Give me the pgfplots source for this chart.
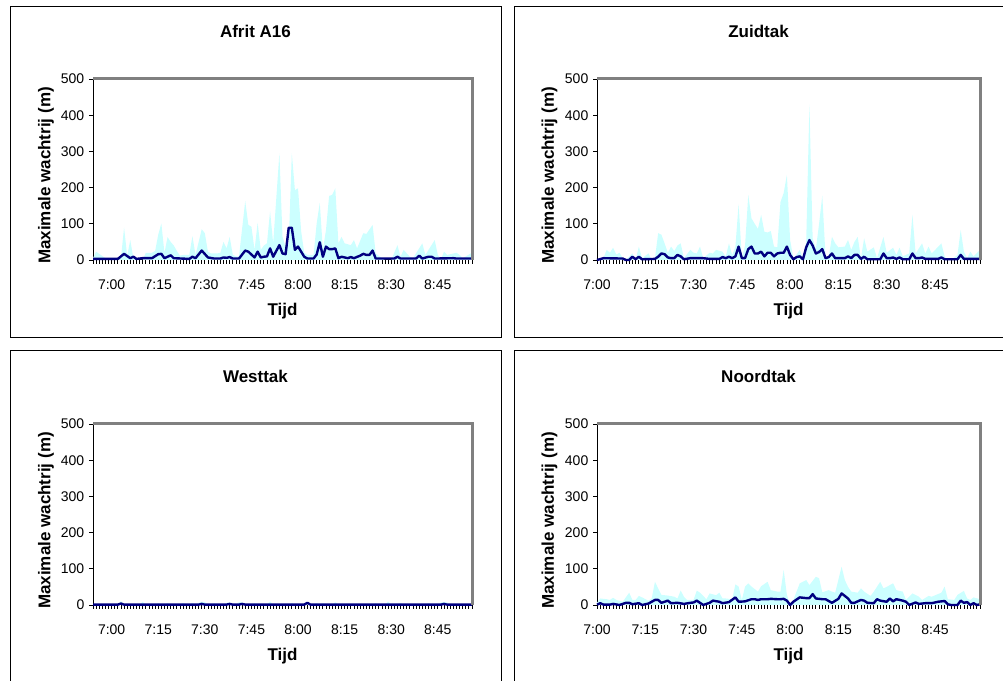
\documentclass[border=0pt]{standalone}
\usepackage{fontspec}
\setmainfont{Liberation Sans}
\usepackage{pgfplots}
\pgfplotsset{compat=1.18}
\definecolor{areac}{RGB}{204,255,255}
\definecolor{navyc}{RGB}{0,0,128}
\definecolor{framegray}{RGB}{128,128,128}

\pgfplotsset{
  panel/.style={
    scale only axis,
    height=135.75pt,
    ymin=0, ymax=500, ytick={0,100,...,500},
    axis x line*=bottom, axis y line*=left,
    axis line style={black, line width=0.75pt, -},
    xtick={0,15,...,105},
    xticklabels={7:00,7:15,7:30,7:45,8:00,8:15,8:30,8:45},
    tick align=outside,
    major tick length=3pt, minor tick length=3pt,
    tick style={black, line width=0.6pt},
    ticklabel style={font=\fontsize{10.5}{12}\selectfont},
    xticklabel style={yshift=-8.5pt},
    /pgf/number format/assume math mode=true,
    xlabel={\textbf{Tijd}}, ylabel={\textbf{Maximale wachtrij (m)}},
    label style={font=\fontsize{12.75}{15}\selectfont},
    xlabel style={at={(axis description cs:0.5,0)}, anchor=center, yshift=-38pt},
    ylabel style={at={(axis description cs:-0.124,0.467)}, anchor=center},
    clip=false,
  },
  leftpanel/.style={panel, width=284.25pt, xmin=-6, xmax=116, minor xtick={-6,-5,...,116}},
  rightpanel/.style={panel, width=287.25pt, xmin=0, xmax=119, minor xtick={0,1,...,119}},
  maxarea/.style={fill=areac, draw=none},
  meanline/.style={navyc, line width=1.8pt, line join=round},
}
\newcommand{\grayframe}{\draw[framegray, line width=2.25pt] (rel axis cs:0,1) -- (rel axis cs:1,1) -- (rel axis cs:1,0);}

\begin{document}
\begin{tikzpicture}
\useasboundingbox (0,0) rectangle (752.25pt,510.75pt);
\draw[black, line width=0.75pt] (7.5pt,257.25pt) rectangle (375.75pt,505.5pt);
\draw[black, line width=0.75pt] (385.5pt,257.25pt) rectangle (760pt,505.5pt);
\draw[black, line width=0.75pt] (7.5pt,-10pt) rectangle (375.75pt,247.5pt);
\draw[black, line width=0.75pt] (385.5pt,-10pt) rectangle (760pt,247.5pt);
\node[font=\fontsize{12.75}{15}\selectfont\bfseries] at (191.6pt,487.5pt) {Afrit A16};
\node[font=\fontsize{12.75}{15}\selectfont\bfseries] at (568.9pt,487.5pt) {Zuidtak};
\node[font=\fontsize{12.75}{15}\selectfont\bfseries] at (191.6pt,228.75pt) {Westtak};
\node[font=\fontsize{12.75}{15}\selectfont\bfseries] at (568.9pt,228.75pt) {Noordtak};

% ---------------- Afrit A16 ----------------
\begin{axis}[leftpanel, at={(69.75pt,315.75pt)}, anchor=south west]
\addplot[maxarea] coordinates {
(-6,5)(-5,23)(-2,5)(3,5)(4,90)(5,12)(6,55)(7,5)(8,0)(10,0)(11,20)(13,20)(14,25)(15,70)(16,101)(17,20)(18,63)(19,50)(20,40)(21,25)(22,12)(23,14)(25,14)(26,66)(27,14)(29,85)(30,74)(31,23)(32,18)(34,18)(35,20)(36,50)(37,32)(38,64)(39,14)(40,10)(41,10)(43,163)(44,97)(45,92)(46,28)(47,103)(48,28)(49,40)(50,46)(51,135)(52,46)(54,295)(55,64)(56,37)(57,45)(58,295)(59,193)(60,198)(61,80)(62,20)(63,14)(65,14)(66,101)(67,158)(68,28)(69,83)(70,177)(71,180)(72,198)(73,46)(74,64)(75,46)(77,41)(78,55)(79,32)(81,74)(82,72)(84,97)(85,18)(87,5)(88,0)(90,0)(92,41)(93,9)(94,28)(96,9)(97,5)(100,46)(101,14)(102,28)(104,55)(105,14)(106,2)(107,23)(108,14)(111,20)(112,14)(113,5)(116,20)
} \closedcycle;
\addplot[meanline] coordinates {
(-6,3)(2,3)(4,17)(6,5)(7,9)(8,3)(10,5)(13,5)(15,16)(16,17)(17,5)(19,13)(20,5)(25,3)(26,9)(27,5)(29,26)(31,7)(33,4)(35,4)(36,7)(37,6)(38,8)(39,4)(41,4)(43,26)(44,23)(46,7)(47,23)(48,7)(49,9)(50,10)(51,32)(52,9)(54,41)(55,18)(56,16)(57,89)(58,89)(59,28)(60,37)(62,9)(63,4)(65,4)(66,15)(67,49)(68,9)(69,37)(70,30)(71,30)(72,32)(73,5)(74,9)(76,5)(77,8)(78,5)(80,12)(81,17)(82,14)(83,14)(84,26)(85,4)(91,4)(92,9)(93,4)(98,4)(99,12)(100,4)(102,9)(103,9)(104,4)(110,5)(111,4)(116,4)
};
\grayframe
\end{axis}

% ---------------- Zuidtak ----------------
\begin{axis}[rightpanel, at={(447.75pt,315.75pt)}, anchor=south west]
\addplot[maxarea] coordinates {
(0,0)(2,5)(3,28)(4,20)(5,34)(6,15)(7,20)(8,5)(9,0)(11,18)(12,0)(13,37)(14,5)(16,18)(17,0)(18,5)(19,74)(20,70)(21,46)(22,20)(23,37)(24,25)(25,40)(26,46)(27,5)(29,28)(30,20)(31,18)(32,37)(33,5)(35,20)(36,18)(37,28)(39,23)(40,9)(41,46)(42,14)(43,37)(44,155)(45,5)(46,40)(47,180)(48,115)(49,100)(50,86)(51,125)(52,78)(53,76)(54,80)(55,37)(56,35)(57,160)(58,185)(59,235)(60,55)(61,5)(62,15)(63,28)(64,5)(65,50)(66,430)(67,60)(68,30)(69,100)(70,178)(71,10)(72,9)(73,64)(74,46)(75,35)(77,37)(78,55)(79,28)(80,50)(81,64)(82,5)(83,60)(84,23)(86,35)(87,5)(89,64)(90,20)(92,34)(93,14)(94,34)(95,10)(97,18)(98,125)(99,18)(101,46)(102,18)(103,37)(104,18)(107,46)(108,10)(109,0)(110,0)(112,14)(113,83)(114,23)(115,5)(116,23)(117,10)(119,28)
} \closedcycle;
\addplot[meanline] coordinates {
(0,0)(2,5)(8,4)(9,0)(10,0)(11,9)(12,2)(13,9)(14,2)(18,3)(19,9)(20,18)(21,16)(22,7)(23,5)(24,5)(25,14)(26,10)(27,2)(29,5)(33,5)(35,3)(38,3)(39,8)(40,5)(41,9)(42,5)(43,10)(44,37)(45,5)(46,5)(47,30)(48,37)(49,18)(50,18)(51,23)(52,10)(53,20)(54,20)(55,10)(56,18)(57,20)(58,20)(59,37)(60,14)(61,2)(62,8)(63,10)(64,2)(65,35)(66,55)(67,40)(68,18)(69,22)(70,30)(71,5)(72,8)(73,18)(74,5)(77,5)(78,10)(79,5)(80,14)(81,14)(82,3)(83,9)(84,2)(88,2)(89,18)(90,5)(91,5)(92,7)(93,3)(94,7)(95,2)(97,2)(98,18)(99,5)(100,5)(101,7)(102,3)(106,3)(107,7)(108,2)(112,2)(113,14)(114,3)(119,3)
};
\grayframe
\end{axis}

% ---------------- Westtak ----------------
\begin{axis}[leftpanel, at={(69.75pt,57pt)}, anchor=south west]
\addplot[maxarea] coordinates {
(-6,0)(2,0)(3,11)(4,0)(9,0)(10,9)(11,0)(14,0)(15,5)(16,0)(17,0)(18,5)(19,0)(22,0)(23,6)(24,0)(25,0)(26,6)(27,0)(28,6)(29,9)(30,8)(31,0)(32,0)(33,5)(34,0)(36,0)(37,6)(38,7)(39,0)(40,0)(41,8)(42,7)(43,0)(45,0)(46,5)(47,0)(50,0)(51,10)(52,0)(57,0)(58,6)(59,0)(62,0)(63,8)(64,0)(65,0)(66,5)(67,0)(68,5)(69,0)(71,0)(72,8)(73,0)(84,0)(85,5)(86,0)(88,0)(89,10)(90,0)(92,0)(93,6)(94,0)(101,0)(102,5)(103,0)(105,0)(106,7)(107,8)(108,7)(109,0)(116,0)
} \closedcycle;
\addplot[meanline] coordinates {
(-6,1)(2,1)(3,4)(4,1)(28,1)(29,3)(30,1)(37,1)(38,3)(39,1)(41,1)(42,3)(43,1)(62,1)(63,6)(64,1)(106,1)(107,3)(108,1)(116,1)
};
\grayframe
\end{axis}

% ---------------- Noordtak ----------------
\begin{axis}[rightpanel, at={(447.75pt,57pt)}, anchor=south west]
\addplot[maxarea] coordinates {
(0,6)(1,18)(3,16)(4,14)(5,20)(6,14)(8,9)(10,34)(11,14)(12,14)(13,25)(14,21)(16,12)(17,18)(18,64)(19,46)(20,28)(22,26)(24,23)(25,18)(26,40)(27,23)(28,14)(30,14)(31,40)(32,34)(34,16)(35,32)(37,27)(38,34)(39,18)(40,18)(42,16)(43,57)(44,51)(45,14)(46,51)(47,60)(48,51)(50,37)(51,52)(53,64)(54,41)(56,37)(57,37)(58,97)(59,28)(60,0)(61,14)(63,60)(65,69)(66,55)(68,78)(69,74)(70,35)(72,41)(73,37)(74,34)(76,106)(77,69)(78,50)(79,37)(81,34)(82,46)(83,37)(85,25)(86,37)(88,64)(89,46)(90,50)(92,60)(93,41)(95,37)(96,14)(98,32)(100,23)(101,14)(103,25)(104,23)(107,34)(108,51)(109,16)(111,14)(112,28)(114,39)(115,18)(116,14)(117,21)(119,16)
} \closedcycle;
\addplot[meanline] coordinates {
(0,1)(1,5)(2,1)(4,1)(5,3)(7,0)(9,6)(10,6)(11,2)(13,5)(14,0)(16,4)(18,14)(19,14)(20,6)(22,12)(23,5)(25,6)(27,3)(29,6)(30,7)(31,12)(32,6)(33,0)(35,6)(36,12)(38,9)(39,5)(41,8)(43,21)(44,9)(46,10)(48,16)(49,16)(50,14)(51,16)(53,16)(54,17)(56,16)(57,16)(58,17)(59,12)(60,0)(61,9)(63,21)(65,19)(66,19)(67,30)(68,18)(70,16)(71,16)(73,6)(75,17)(76,32)(78,18)(79,6)(80,6)(82,14)(83,12)(84,6)(86,5)(87,16)(88,12)(90,9)(91,18)(92,10)(93,16)(95,12)(96,9)(97,0)(99,7)(100,3)(102,5)(104,5)(106,9)(108,11)(109,2)(110,0)(112,0)(113,12)(114,6)(115,8)(116,0)(117,5)(118,0)(119,2)
};
\grayframe
\end{axis}
\end{tikzpicture}
\end{document}
